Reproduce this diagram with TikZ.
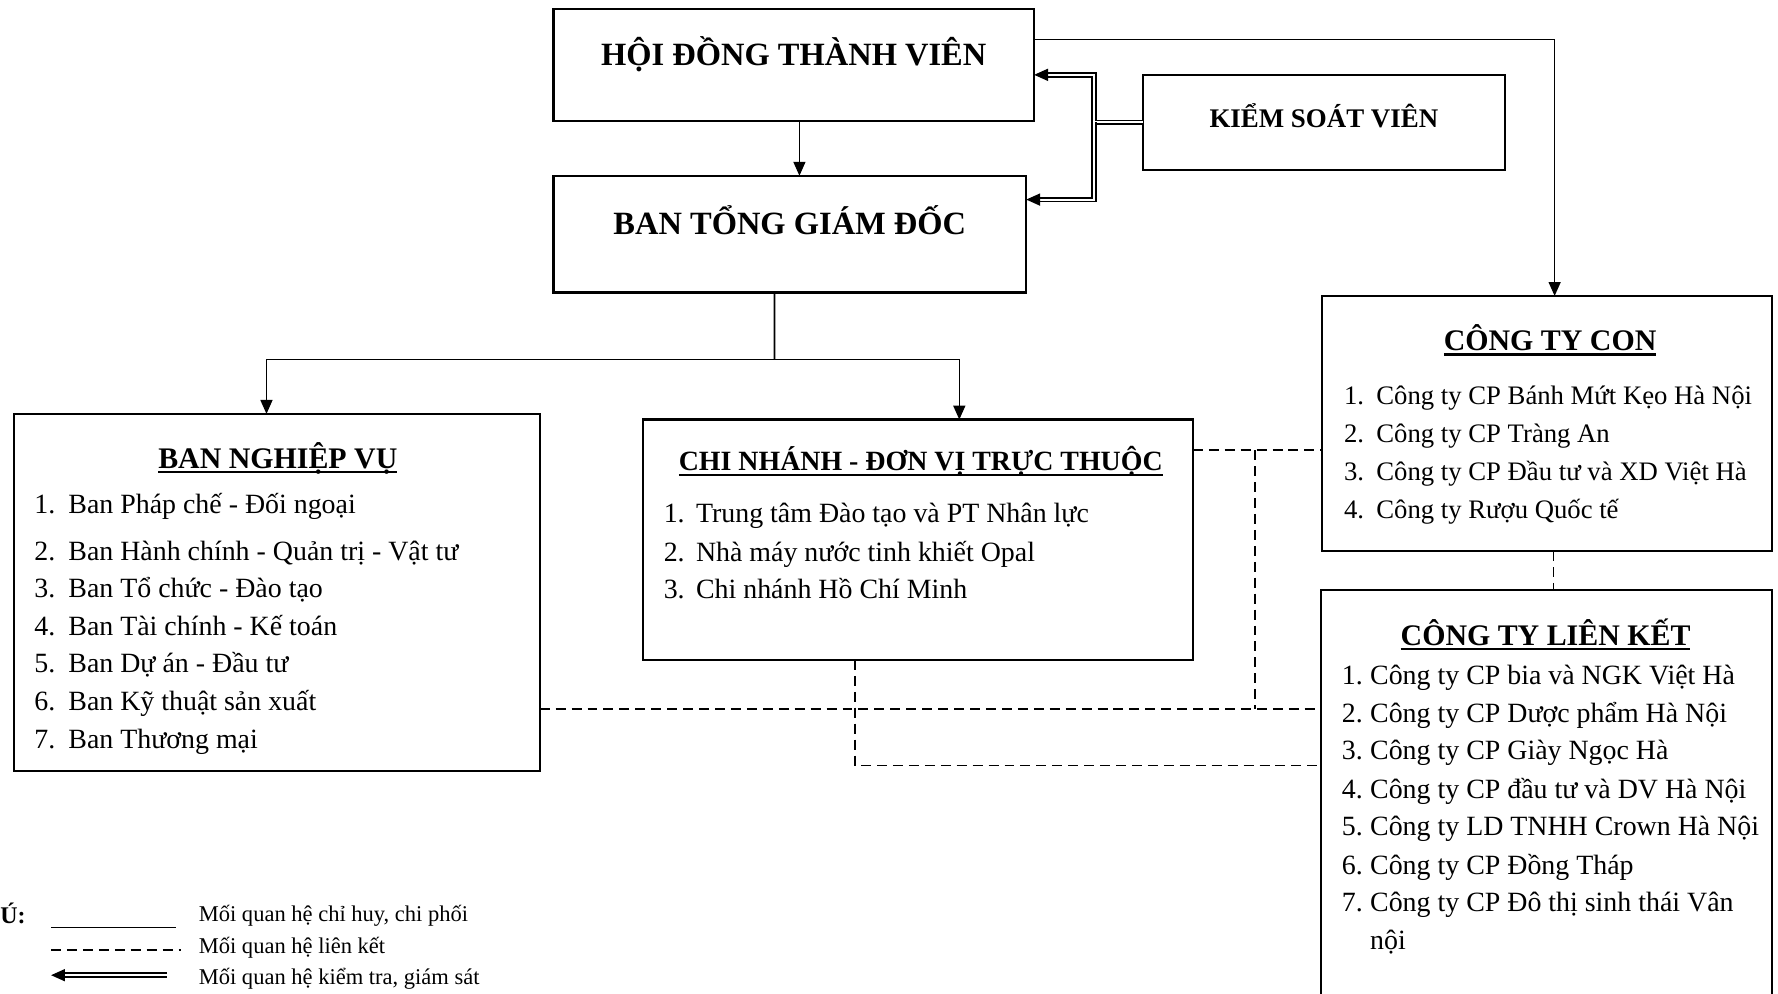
\documentclass[tikz,border=0pt]{standalone}
\usepackage{fontspec}
\setmainfont{Liberation Serif}
\usetikzlibrary{arrows.meta,calc,positioning}

% so thu tu va gach chan tieu de
\newcommand{\listno}[2][0.57cm]{\makebox[#1][l]{#2}}
\newcommand{\ultitle}[1]{\setbox0=\hbox{#1}\rlap{\rule[-2.6pt]{\wd0}{1.1pt}}\box0}

\begin{document}
\begin{tikzpicture}[x=0.02cm, y=-0.02cm, >={Triangle[length=7pt, width=6pt]},
    box/.style={rectangle, draw, line width=1.1pt, inner sep=0pt, outer sep=0pt},
    head/.style={box, font=\fontsize{16.3}{20}\selectfont\bfseries, text height=9pt, text depth=9pt},
    ttl/.style={anchor=base, inner sep=0pt, font=\fontsize{15}{18}\selectfont\bfseries},
    item/.style={anchor=base west, inner sep=0pt, font=\fontsize{14}{19}\selectfont},
    link/.style={dash pattern=on 5pt off 3pt, line width=0.9pt},
    check/.style={->, double, line width=0.9pt, double distance=1pt},
    legend/.style={anchor=base west, inner sep=0pt, font=\fontsize{11.3}{14}\selectfont}]
    \useasboundingbox (0,0) rectangle (1568,876);

    % cac khung
    \node[head, minimum width=8.48cm, minimum height=1.98cm] (hdtv) at (700,57.5) {HỘI ĐỒNG THÀNH VIÊN};
    \node[head, minimum width=8.34cm, minimum height=2.06cm] (btgd) at (696.5,206.5) {BAN TỔNG GIÁM ĐỐC};
    \node[head, minimum width=6.38cm, minimum height=1.68cm, text depth=4pt, font=\fontsize{13.5}{16}\selectfont\bfseries] (ksv) at (1167.5,108) {KIỂM SOÁT VIÊN};
    \node[box, minimum width=9.28cm, minimum height=6.3cm] (bnv) at (244,522.5) {};
    \node[box, minimum width=9.7cm, minimum height=4.24cm] (cn) at (809.5,476) {};
    \node[box, minimum width=7.94cm, minimum height=4.5cm] (ctc) at (1364.5,373.5) {};
    \node[box, minimum width=7.96cm, minimum height=7.2cm] (ctlk) at (1364,700) {};

    \node[ttl] (bnvt) at (245,413) {\ultitle{BAN NGHIỆP VỤ}};
    \node[ttl, font=\fontsize{14}{17}\selectfont\bfseries] (cnt) at (812,415) {\ultitle{CHI NHÁNH - ĐƠN VỊ TRỰC THUỘC}};
    \node[ttl] (ctct) at (1367,309) {\ultitle{CÔNG TY CON}};
    \node[ttl] (ctlkt) at (1363,569) {\ultitle{CÔNG TY LIÊN KẾT}};

    \foreach \y/\t [count=\i] in {453/Ban Pháp chế - Đối ngoại, 494/Ban Hành chính - Quản trị - Vật tư,
        527/Ban Tổ chức - Đào tạo, 560/Ban Tài chính - Kế toán, 593/Ban Dự án - Đầu tư,
        627/Ban Kỹ thuật sản xuất, 660/Ban Thương mại}
      \node[item] (bnv\i) at (30,\y) {\listno[0.6cm]{\i.}\t};
    \foreach \y/\t [count=\i] in {461/Trung tâm Đào tạo và PT Nhân lực, 495/Nhà máy nước tinh khiết Opal,
        528/Chi nhánh Hồ Chí Minh}
      \node[item] (cn\i) at (585,\y) {\listno{\i.}\t};
    \foreach \y/\t [count=\i] in {357/Công ty CP Bánh Mứt Kẹo Hà Nội, 390/Công ty CP Tràng An,
        424/Công ty CP Đầu tư và XD Việt Hà, 457/Công ty Rượu Quốc tế}
      \node[item, font=\fontsize{13.4}{18}\selectfont] (ctc\i) at (1185,\y) {\listno{\i.}\t};
    \foreach \y/\t [count=\i] in {604/Công ty CP bia và NGK Việt Hà, 637/Công ty CP Dược phẩm Hà Nội,
        670/Công ty CP Giày Ngọc Hà, 704/Công ty CP đầu tư và DV Hà Nội, 737/Công ty LD TNHH Crown Hà Nội,
        771/Công ty CP Đồng Tháp, 804/Công ty CP Đô thị sinh thái Vân}
      \node[item] (ctlk\i) at (1183,\y) {\listno[0.5cm]{\i.}\t};
    \node[item] (ctlk7b) at (1208,837) {nội};

    % chi huy, chi phoi
    \draw[->, thick] ([xshift=0.1cm]hdtv.south) -- ([xshift=0.1cm]hdtv.south |- btgd.north);
    \draw[->, thick] ([yshift=0.45cm]hdtv.east) -| ([xshift=0.13cm]ctc.north);
    \coordinate (split) at (683,317);
    \draw[thick] ([xshift=-0.27cm]btgd.south) -- (split);
    \draw[->, thick] (split) -| ([xshift=-0.18cm]bnv.north);
    \draw[->, thick] (split) -| ([xshift=0.73cm]cn.north);

    % kiem tra, giam sat
    \coordinate (kv) at (965,108);
    \draw[check] (ksv.west) -- (kv) |- ([yshift=-0.17cm]hdtv.east);
    \draw[check] (kv) |- ([yshift=0.61cm]btgd.east);

    % lien ket
    \coordinate (d1) at ([yshift=1.58cm]cn.east);
    \coordinate (d2) at ([yshift=-2.05cm]bnv.east);
    \coordinate (d3) at ([xshift=-1.11cm]cn.south);
    \coordinate (d4) at ([xshift=0.11cm]ctc.south);
    \coordinate (jx) at (1107,0);
    \draw[link] (d1) -- (d1 -| ctc.west);
    \draw[link] (d2) -- (d2 -| ctlk.west);
    \draw[link] (d1 -| jx) -- (d2 -| jx);
    \draw[link] (d3) |- ([yshift=0.5cm]ctlk.west);
    \draw[link] (d4) -- (d4 |- ctlk.north);

    % chu thich
    \node[anchor=base west, inner sep=0pt, font=\fontsize{12}{14}\selectfont\bfseries] (note) at (0,814) {Ú:};
    \node[legend] (lg1) at (175,813) {Mối quan hệ chỉ huy, chi phối};
    \node[legend] (lg2) at (175,841) {Mối quan hệ liên kết};
    \node[legend] (lg3) at (175,868) {Mối quan hệ kiểm tra, giám sát};
    \coordinate (s1) at (45,818);
    \coordinate (s2) at (45,838);
    \coordinate (s3) at (147,860);
    \draw[thick] (s1) -- ++(110,0);
    \draw[link] (s2) -- ++(115,0);
    \draw[check] (s3) -- ++(-102,0);
\end{tikzpicture}
\end{document}
